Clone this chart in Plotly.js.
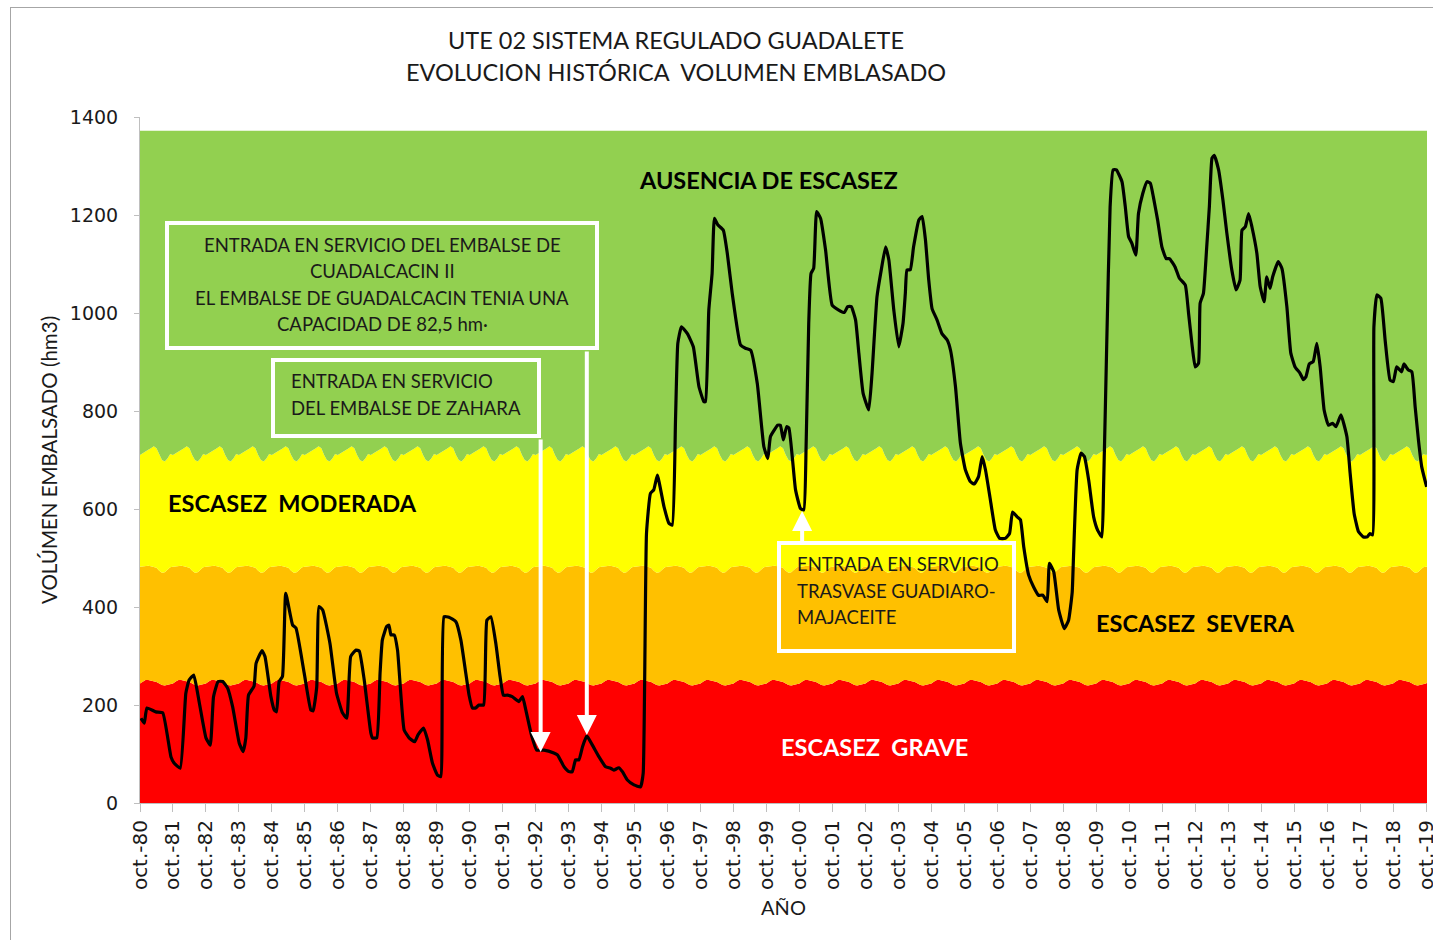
<!DOCTYPE html>
<html>
<head>
<meta charset="utf-8">
<script src="https://cdn.plot.ly/plotly-3.0.1.min.js"></script>
<style>
  html, body { margin: 0; padding: 0; background: #ffffff; }
  #frame { position: absolute; left: 10px; top: 7px; width: 1440px; height: 960px;
           border-left: 1px solid #a6a6a6; border-top: 1px solid #a6a6a6; }
  #chart { position: absolute; left: 0; top: 0; width: 1433px; height: 940px; }
</style>
</head>
<body>
<div id="frame"></div>
<div id="chart"></div>
<script>
// ---- Tick labels (one per hydrological year, October) ----
const tickYears = [1980.75,1981.75,1982.75,1983.75,1984.75,1985.75,1986.75,1987.75,1988.75,1989.75,
  1990.75,1991.75,1992.75,1993.75,1994.75,1995.75,1996.75,1997.75,1998.75,1999.75,
  2000.75,2001.75,2002.75,2003.75,2004.75,2005.75,2006.75,2007.75,2008.75,2009.75,
  2010.75,2011.75,2012.75,2013.75,2014.75,2015.75,2016.75,2017.75,2018.75,2019.75];
const tickLabels = ['oct.-80','oct.-81','oct.-82','oct.-83','oct.-84','oct.-85','oct.-86','oct.-87','oct.-88','oct.-89',
  'oct.-90','oct.-91','oct.-92','oct.-93','oct.-94','oct.-95','oct.-96','oct.-97','oct.-98','oct.-99',
  'oct.-00','oct.-01','oct.-02','oct.-03','oct.-04','oct.-05','oct.-06','oct.-07','oct.-08','oct.-09',
  'oct.-10','oct.-11','oct.-12','oct.-13','oct.-14','oct.-15','oct.-16','oct.-17','oct.-18','oct.-19'];
const yTicks = [0,200,400,600,800,1000,1200,1400];

// ---- Monthly scarcity thresholds (Oct..Sep), hm3 ----
const umbralGrave    = [244,248,251,251,250,249,247,244,241,240,241,243];
const umbralSevera   = [482,483,484,484,483,482,480,474,470,471,476,481];
const umbralModerada = [710,714,717,721,724,728,724,710,700,697,703,712];
const techoAusencia  = 1372;

// ---- Stored volume (decimal year, hm3) ----
const fecha = [1980.78,1980.88,1980.96,1981.23,1981.44,1981.69,1981.79,1981.97,1982.14,1982.24,
  1982.38,1982.55,1982.75,1982.88,1982.98,1983.12,1983.26,1983.41,1983.56,1983.76,
  1983.88,1983.96,1984.04,1984.21,1984.27,1984.45,1984.54,1984.72,1984.82,1984.89,
  1984.97,1985.07,1985.17,1985.38,1985.48,1985.73,1985.93,1986.00,1986.11,1986.18,
  1986.29,1986.51,1986.71,1986.89,1987.02,1987.14,1987.30,1987.40,1987.55,1987.75,
  1987.80,1987.93,1988.03,1988.10,1988.23,1988.30,1988.36,1988.46,1988.56,1988.76,
  1988.91,1989.08,1989.18,1989.35,1989.47,1989.62,1989.77,1989.87,1989.97,1990.12,
  1990.33,1990.48,1990.63,1990.73,1990.83,1990.93,1991.03,1991.17,1991.27,1991.39,
  1991.54,1991.67,1991.77,1991.89,1992.04,1992.24,1992.35,1992.45,1992.62,1992.78,
  1993.00,1993.30,1993.41,1993.61,1993.76,1993.86,1993.96,1994.06,1994.17,1994.30,
  1994.47,1994.67,1994.87,1995.02,1995.12,1995.27,1995.38,1995.53,1995.73,1995.93,
  1996.01,1996.11,1996.23,1996.33,1996.44,1996.64,1996.79,1996.89,1996.99,1997.06,
  1997.17,1997.35,1997.53,1997.70,1997.85,1997.90,1998.00,1998.10,1998.17,1998.27,
  1998.44,1998.56,1998.71,1998.96,1999.11,1999.27,1999.47,1999.67,1999.79,1999.87,
  2000.09,2000.17,2000.26,2000.36,2000.43,2000.63,2000.78,2000.88,2000.95,2001.03,
  2001.10,2001.18,2001.27,2001.39,2001.54,2001.74,2001.94,2002.11,2002.21,2002.32,
  2002.45,2002.55,2002.68,2002.85,2002.95,2003.10,2003.23,2003.36,2003.46,2003.61,
  2003.76,2003.89,2003.96,2004.01,2004.11,2004.21,2004.37,2004.47,2004.57,2004.67,
  2004.77,2004.92,2005.07,2005.23,2005.33,2005.48,2005.63,2005.78,2005.93,2006.05,
  2006.18,2006.29,2006.39,2006.54,2006.69,2006.82,2006.99,2007.12,2007.21,2007.35,
  2007.45,2007.55,2007.70,2007.85,2008.00,2008.13,2008.26,2008.33,2008.46,2008.61,
  2008.78,2008.91,2009.02,2009.06,2009.17,2009.29,2009.39,2009.52,2009.67,2009.79,
  2009.92,2009.97,2010.07,2010.17,2010.26,2010.36,2010.53,2010.63,2010.73,2010.83,
  2010.95,2011.03,2011.16,2011.29,2011.39,2011.49,2011.61,2011.74,2011.87,2011.97,
  2012.14,2012.27,2012.45,2012.55,2012.65,2012.75,2012.85,2012.90,2013.00,2013.10,
  2013.18,2013.26,2013.33,2013.46,2013.59,2013.71,2013.86,2013.99,2014.11,2014.17,
  2014.27,2014.37,2014.47,2014.62,2014.72,2014.84,2014.92,2015.02,2015.10,2015.27,
  2015.38,2015.53,2015.65,2015.78,2015.93,2016.03,2016.11,2016.21,2016.33,2016.44,
  2016.54,2016.66,2016.79,2016.92,2017.02,2017.17,2017.35,2017.45,2017.57,2017.70,
  2017.85,2017.97,2018.05,2018.13,2018.17,2018.26,2018.38,2018.51,2018.66,2018.76,
  2018.86,2019.01,2019.08,2019.21,2019.32,2019.42,2019.52,2019.62,2019.77];
const volumen = [173,163,194,186,184,94,81,71,224,251,
  261,204,133,118,217,248,248,234,196,122,
  105,133,220,239,285,311,299,217,190,186,
  248,258,428,363,357,265,190,188,237,401,
  394,326,224,184,173,299,312,310,251,143,
  133,133,265,333,360,363,343,343,312,149,
  133,125,139,153,129,81,57,54,380,379,
  370,333,265,220,194,194,200,200,373,380,
  326,258,220,220,217,207,217,190,139,108,
  108,102,98,74,64,64,88,88,115,137,
  118,94,74,71,67,72,64,47,37,33,
  61,550,632,639,669,605,571,567,782,938,
  972,958,931,850,819,819,1006,1081,1193,1180,
  1169,1122,1040,935,928,924,856,727,703,748,
  771,771,741,768,765,639,601,598,727,979,
  1081,1091,1207,1193,1129,1016,1006,1001,1013,1013,
  986,918,836,802,877,1033,1088,1135,1108,1006,
  931,979,1040,1088,1088,1135,1190,1197,1149,1067,
  1009,986,958,945,924,850,734,680,656,651,
  666,707,680,618,557,540,540,550,594,584,
  578,523,465,441,424,424,411,489,472,394,
  356,373,430,503,680,714,707,659,584,557,
  543,639,945,1217,1292,1292,1268,1217,1156,1142,
  1118,1203,1244,1268,1265,1234,1190,1135,1111,1111,
  1094,1071,1057,999,938,890,897,1020,1040,1135,
  1217,1316,1322,1292,1231,1163,1088,1047,1067,1169,
  1176,1203,1176,1122,1054,1023,1074,1050,1074,1105,
  1091,1013,918,890,877,864,870,896,901,938,
  890,802,771,775,768,792,748,672,591,554,
  543,543,550,547,972,1037,1030,945,863,860,
  890,880,896,884,880,809,741,686,645];

// ---- Text content ----
const tituloLineas = ['UTE 02 SISTEMA REGULADO GUADALETE', 'EVOLUCION HISTÓRICA\u00a0 VOLUMEN EMBLASADO'];
const notaCuadalcacin = ['ENTRADA EN SERVICIO DEL EMBALSE DE', 'CUADALCACIN II',
  'EL EMBALSE DE GUADALCACIN TENIA UNA', 'CAPACIDAD DE 82,5 hm·'];
const notaZahara = ['ENTRADA EN SERVICIO', 'DEL EMBALSE DE ZAHARA'];
const notaTrasvase = ['ENTRADA EN SERVICIO', 'TRASVASE GUADIARO-', 'MAJACEITE'];

// ---- Build the monthly band table from the threshold arrays ----
const bandX = [], bandR = [], bandO = [], bandY = [], bandG = [];
const nMonths = (tickYears.length - 1) * 12 + 2;
for (let i = 0; i < nMonths; i++) {
  bandX.push(tickYears[0] + i / 12);
  bandR.push(umbralGrave[i % 12]);
  bandO.push(umbralSevera[i % 12]);
  bandY.push(umbralModerada[i % 12]);
  bandG.push(techoAusencia);
}

const bandTrace = (y, fill, color) => ({
  x: bandX, y: y, type: 'scatter', mode: 'lines', fill: fill, fillcolor: color,
  line: { width: 0, color: color }, hoverinfo: 'skip', showlegend: false
});

const traces = [
  bandTrace(bandR, 'tozeroy', '#FF0000'),
  bandTrace(bandO, 'tonexty', '#FFC000'),
  bandTrace(bandY, 'tonexty', '#FFFF00'),
  bandTrace(bandG, 'tonexty', '#92D050'),
  { x: fecha, y: volumen, type: 'scatter', mode: 'lines',
    line: { color: '#000000', width: 3.2, shape: 'spline', smoothing: 0.4 },
    showlegend: false, hoverinfo: 'x+y' }
];

// ---- Layout helpers (pixel -> paper, plot area 140..1427 x 117..803) ----
const M = { l: 140, r: 6, t: 117, b: 137 };
const PW = 1433 - M.l - M.r, PH = 940 - M.t - M.b;
const px = v => (v - M.l) / PW;
const py = v => (940 - M.b - v) / PH;

const TXT = 'Lato, "Open Sans", sans-serif';
const AX = '"DejaVu Sans", Verdana, sans-serif';

const boxShape = (x0, x1, y0, y1) => ({
  type: 'rect', xref: 'paper', yref: 'paper', x0: px(x0), x1: px(x1), y0: py(y1), y1: py(y0),
  line: { color: '#FFFFFF', width: 4 }, fillcolor: 'rgba(0,0,0,0)', layer: 'above'
});

const label = (text, x, y, xanchor, size, color, bold) => ({
  text: bold ? '<b>' + text + '</b>' : text, xref: 'paper', yref: 'paper',
  x: px(x), y: py(y), xanchor: xanchor, yanchor: 'middle', showarrow: false,
  font: { family: TXT, size: size, color: color }
});

const lines = (arr, x, y0, dy, xanchor) => arr.map((t, i) => label(t, x, y0 + i * dy, xanchor, 18.5, '#1a1a1a', false));

const arrow = (x, y, ay) => ({
  x: x, y: y, xref: 'x', yref: 'y', text: '', showarrow: true,
  ax: 0, ay: ay, arrowcolor: '#FFFFFF', arrowwidth: 4, arrowhead: 2, arrowsize: 1, standoff: 0
});

const layout = {
  width: 1433, height: 940,
  margin: M,
  paper_bgcolor: 'rgba(0,0,0,0)', plot_bgcolor: 'rgba(0,0,0,0)',
  title: { text: '' },
  xaxis: {
    range: [1980.75, 2019.78], tickmode: 'array', tickvals: tickYears, ticktext: tickLabels,
    tickangle: -90, tickfont: { family: AX, size: 20, color: '#1a1a1a' }, ticklabeloverflow: 'allow',
    ticks: 'outside', ticklen: 8, tickcolor: '#bfbfbf', showline: true, linecolor: '#bfbfbf',
    showgrid: false, zeroline: false, fixedrange: true,
    title: { text: 'AÑO', font: { family: TXT, size: 20, color: '#1a1a1a' }, standoff: 11 }
  },
  yaxis: {
    range: [0, 1400], tickmode: 'array', tickvals: yTicks,
    tickfont: { family: AX, size: 19, color: '#1a1a1a' }, ticklabelstandoff: 12,
    ticks: 'outside', ticklen: 5, tickcolor: '#bfbfbf', showline: true, linecolor: '#bfbfbf',
    showgrid: false, zeroline: false, fixedrange: true,
    title: { text: 'VOLÚMEN EMBALSADO (hm3)', font: { family: TXT, size: 20.5, color: '#1a1a1a' }, standoff: 6 }
  },
  shapes: [
    boxShape(167, 597, 223, 348),
    boxShape(273, 539, 360, 436),
    boxShape(779, 1014, 543, 651)
  ],
  annotations: [
    label(tituloLineas[0], 676, 40, 'center', 23.5, '#1a1a1a', false),
    label(tituloLineas[1], 676, 72, 'center', 23.5, '#1a1a1a', false),
    label('AUSENCIA DE ESCASEZ', 768.5, 180, 'center', 23.5, '#000000', true),
    label('ESCASEZ\u00a0 MODERADA', 166, 503, 'left', 23.5, '#000000', true),
    label('ESCASEZ\u00a0 SEVERA', 1094, 623, 'left', 23.5, '#000000', true),
    label('ESCASEZ\u00a0 GRAVE', 874.5, 747, 'center', 23.5, '#FFFFFF', true)
  ].concat(
    lines(notaCuadalcacin, 382, 245, 26.4, 'center'),
    lines(notaZahara, 289, 381, 27, 'left'),
    lines(notaTrasvase, 795, 564, 26.5, 'left'),
    [arrow(1992.90, 104, -314), arrow(1994.30, 139, -385), arrow(2000.83, 596, 34)]
  )
};

Plotly.newPlot('chart', traces, layout, { displayModeBar: false, staticPlot: true });
</script>
</body>
</html>
